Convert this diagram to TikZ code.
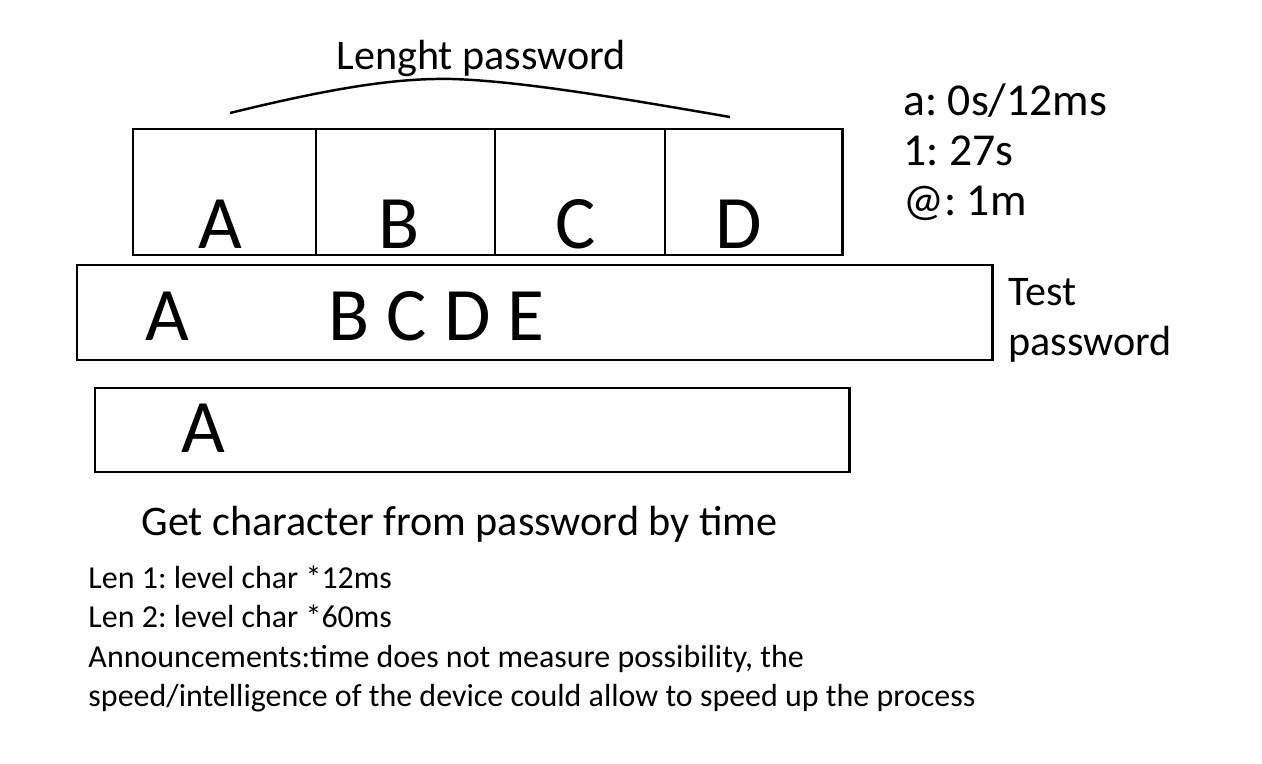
\documentclass[tikz,border=0pt]{standalone}
\usepackage{fontspec}
\setmainfont{Carlito}
\usepackage{tikz}
\usetikzlibrary{positioning}
\frenchspacing

\begin{document}
\begin{tikzpicture}[x=0.02cm,y=-0.02cm,line width=1.7pt,
    big/.style={font=\fontsize{43}{43}\selectfont, inner sep=0pt, anchor=base},
    title/.style={font=\fontsize{24}{24}\selectfont, inner sep=0pt, anchor=base west},
    timing/.style={font=\fontsize{26}{26}\selectfont, inner sep=0pt, anchor=base west},
    note/.style={font=\fontsize{18.2}{18.2}\selectfont, inner sep=0pt, anchor=base west}]
    \useasboundingbox[fill=white] (0,0) rectangle (1262,764);
    % Length of the password
    \node[title] (lenght) at (335,70) {Lenght password};
    \draw[line width=1.4pt] (230,113) .. controls (340,86) and (400,78) .. (452,79) .. controls (520,81) and (620,98) .. (730,117);
    % Characters of the password
    \draw (133,129) rectangle (842,255);
    \draw (316,129) -- (316,255);
    \draw (495,129) -- (495,255);
    \draw (665,129) -- (665,255);
    \node[big] (cA) at (220,248) {A};
    \node[big] (cB) at (399,248) {B};
    \node[big] (cC) at (576,248) {C};
    \node[big] (cD) at (739,248) {D};
    % Time per character
    \node[timing] (ta) at (902,115) {a: 0s/12ms};
    \node[timing] (t1) at (902,165) {1: 27s};
    \node[timing] (tat) at (902,215) {@: 1m};
    % Test password
    \draw (77,265) rectangle (992,360);
    \node[big] (tA) at (167,340) {A};
    \node[big, anchor=base west] (tB) at (327,340) {B C D E};
    \node[title] (test) at (1007,305) {Test};
    \node[title] (pass) at (1007,355) {password};
    % Found character
    \draw (95,388) rectangle (849,472);
    \node[big] (fA) at (203,452) {A};
    \node[title] (get) at (140,535) {Get character from password by time};
    % Notes
    \node[note] (len1) at (87,588) {Len 1: level char *12ms};
    \node[note] (len2) at (87,627) {Len 2: level char *60ms};
    \node[note] (ann1) at (87,667) {Announcements:time does not measure possibility, the};
    \node[note] (ann2) at (87,706) {speed/intelligence of the device could allow to speed up the process};
\end{tikzpicture}
\end{document}
